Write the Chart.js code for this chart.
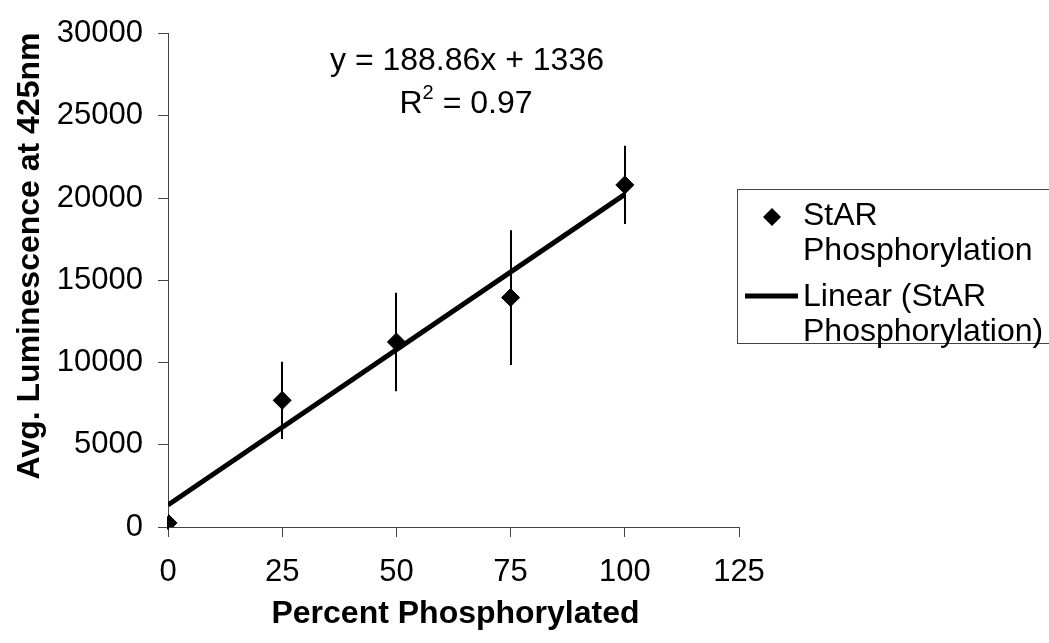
<!DOCTYPE html>
<html>
<head>
<meta charset="utf-8">
<script src="https://cdn.jsdelivr.net/npm/chart.js@4"></script>
<style>
  body { margin: 0; background: #fff; }
  #wrap { width: 1049px; height: 643px; }
</style>
</head>
<body>
<div id="wrap"><canvas id="chart" width="1049" height="643"></canvas></div>
<script>
// Percent phosphorylated vs. average luminescence
const percent = [0, 25, 50, 75, 100];
const luminescence = [250, 7700, 11250, 13950, 20800];
const errorSize = [400, 2350, 3000, 4100, 2380];
const xTicks = [0, 25, 50, 75, 100, 125];
const yTicks = [0, 5000, 10000, 15000, 20000, 25000, 30000];

// Linear fit shown on the chart
const slope = 188.86;
const intercept = 1336;
const r2 = 0.97;

const FONT = '"Liberation Sans", Arial, sans-serif';
const AXIS_COLOR = '#444';

const fitPoints = [percent[0], percent[percent.length - 1]].map(x => ({ x, y: slope * x + intercept }));

// vertical error bars under the markers
const errorBars = {
  id: 'errorBars',
  beforeDatasetsDraw(chart) {
    const { ctx, scales: { x, y } } = chart;
    ctx.save();
    ctx.strokeStyle = '#000';
    ctx.lineWidth = 2;
    percent.forEach((p, i) => {
      const px = Math.round(x.getPixelForValue(p));
      ctx.beginPath();
      ctx.moveTo(px, y.getPixelForValue(luminescence[i] + errorSize[i]));
      ctx.lineTo(px, y.getPixelForValue(luminescence[i] - errorSize[i]));
      ctx.stroke();
    });
    ctx.restore();
  }
};

// axis titles, fit equation and the boxed legend
const annotations = {
  id: 'annotations',
  afterDraw(chart) {
    const { ctx, chartArea } = chart;
    ctx.save();
    ctx.fillStyle = '#000';
    ctx.textBaseline = 'middle';

    ctx.font = 'bold 32px ' + FONT;
    ctx.textAlign = 'center';
    ctx.fillText('Percent Phosphorylated', (chartArea.left + chartArea.right) / 2 + 2, 614);
    ctx.save();
    ctx.translate(30, 256);
    ctx.rotate(-Math.PI / 2);
    ctx.fillText('Avg. Luminescence at 425nm', 0, 0);
    ctx.restore();

    // equation + R squared
    ctx.font = '32px ' + FONT;
    ctx.fillText(`y = ${slope}x + ${intercept}`, 467, 61);
    const rA = 'R', rB = ` = ${r2}`;
    const wA = ctx.measureText(rA).width, wB = ctx.measureText(rB).width;
    ctx.font = '20px ' + FONT;
    const wS = ctx.measureText('2').width;
    let sx = 466 - (wA + wS + wB) / 2;
    ctx.textAlign = 'left';
    ctx.font = '32px ' + FONT;
    ctx.fillText(rA, sx, 104);
    ctx.font = '20px ' + FONT;
    ctx.fillText('2', sx + wA, 93);
    ctx.font = '32px ' + FONT;
    ctx.fillText(rB, sx + wA + wS, 104);

    // legend box
    ctx.strokeStyle = AXIS_COLOR;
    ctx.lineWidth = 1;
    ctx.strokeRect(737.5, 189.5, 320, 154);

    ctx.fillStyle = '#000';
    ctx.beginPath();
    ctx.moveTo(772, 208);
    ctx.lineTo(781, 217);
    ctx.lineTo(772, 226);
    ctx.lineTo(763, 217);
    ctx.closePath();
    ctx.fill();

    ctx.strokeStyle = '#000';
    ctx.lineWidth = 5;
    ctx.beginPath();
    ctx.moveTo(745, 296);
    ctx.lineTo(798, 296);
    ctx.stroke();

    ctx.font = '32px ' + FONT;
    ctx.fillText('StAR', 803, 216);
    ctx.fillText('Phosphorylation', 803, 251);
    ctx.fillText('Linear (StAR', 803, 297);
    ctx.fillText('Phosphorylation)', 803, 332);
    ctx.restore();
  }
};

new Chart(document.getElementById('chart'), {
  type: 'scatter',
  data: {
    datasets: [
      {
        label: 'StAR Phosphorylation',
        data: percent.map((p, i) => ({ x: p, y: luminescence[i] })),
        pointStyle: 'rectRot',
        pointRadius: 9,
        pointBackgroundColor: '#000',
        pointBorderColor: '#000',
        pointBorderWidth: 1
      },
      {
        label: 'Linear (StAR Phosphorylation)',
        type: 'line',
        data: fitPoints,
        borderColor: '#000',
        borderWidth: 5,
        pointRadius: 0,
        fill: false
      }
    ]
  },
  options: {
    responsive: false,
    animation: false,
    layout: { padding: { left: 0, top: 23, right: 310, bottom: 0 } },
    plugins: {
      legend: { display: false },
      tooltip: { enabled: false }
    },
    scales: {
      x: {
        type: 'linear',
        min: xTicks[0],
        max: xTicks[xTicks.length - 1],
        afterBuildTicks: s => { s.ticks = xTicks.map(v => ({ value: v })); },
        afterFit: s => { s.height = 116; },
        border: { color: AXIS_COLOR, width: 1 },
        grid: { drawOnChartArea: false, tickLength: 10, tickColor: AXIS_COLOR },
        ticks: { color: '#000', font: { family: FONT, size: 31 }, padding: 17, maxRotation: 0,
                 callback: v => String(v) }
      },
      y: {
        type: 'linear',
        min: yTicks[0],
        max: yTicks[yTicks.length - 1],
        afterBuildTicks: s => { s.ticks = yTicks.map(v => ({ value: v })); },
        afterFit: s => { s.width = 168; },
        border: { color: AXIS_COLOR, width: 1 },
        grid: { drawOnChartArea: false, tickLength: 10, tickColor: AXIS_COLOR },
        ticks: { color: '#000', font: { family: FONT, size: 31 }, padding: 15,
                 callback: v => String(v) }
      }
    }
  },
  plugins: [errorBars, annotations]
});
</script>
</body>
</html>
